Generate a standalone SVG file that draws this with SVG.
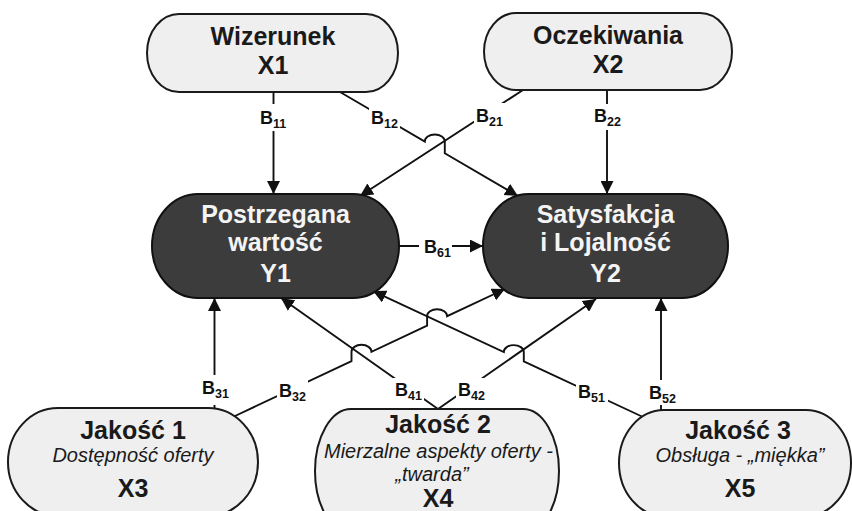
<svg xmlns="http://www.w3.org/2000/svg" width="852" height="511" viewBox="0 0 852 511">
<style>
.light{fill:#efefef;stroke:#1a1a1a;stroke-width:2}
.dark{fill:#3c3c3c;stroke:#111;stroke-width:2}
.t{font-family:"Liberation Sans",Arial,sans-serif;font-weight:bold;text-anchor:middle;fill:#1a1a1a;font-size:25px}
.tw{font-family:"Liberation Sans",Arial,sans-serif;font-weight:bold;text-anchor:middle;fill:#f4f4f4;font-size:25px}
.it{font-family:"Liberation Sans",Arial,sans-serif;font-style:italic;text-anchor:middle;fill:#1a1a1a;font-size:20px}
.e{fill:none;stroke:#111;stroke-width:1.9;marker-end:url(#arr)}
.lb{fill:#fff}
.l{font-family:"Liberation Sans",Arial,sans-serif;font-weight:bold;font-size:18px;fill:#111}
.s{font-size:12.5px}
</style>
<defs>
<marker id="arr" markerUnits="userSpaceOnUse" markerWidth="14" markerHeight="13" refX="13" refY="6.5" orient="auto">
<path d="M0,0 L13,6.5 L0,13 Z" fill="#111"/>
</marker>
</defs>
<rect width="852" height="511" fill="#fff"/>
<g id="connectors">
<g id="e11"><path class="e" d="M273.5,92 L273.5,194"/><rect class="lb" x="258" y="104" width="31" height="27"/><text class="l" x="260" y="124">B<tspan class="s" dy="4">11</tspan></text></g>
<g id="e12"><path class="e" d="M340,92 L424.8,141.5 A10,7 0 0 1 444.8,141.5 L444.8,153.2 L518,196"/><rect class="lb" x="369" y="106" width="31" height="24"/><text class="l" x="371" y="124">B<tspan class="s" dy="4">12</tspan></text></g>
<g id="e21"><path class="e" d="M523,90 L360,196"/><rect class="lb" x="474" y="103" width="31" height="25"/><text class="l" x="476" y="122">B<tspan class="s" dy="4">21</tspan></text></g>
<g id="e22"><path class="e" d="M607,90 L607,194"/><rect class="lb" x="592" y="104" width="32" height="26"/><text class="l" x="594" y="122">B<tspan class="s" dy="4">22</tspan></text></g>
<g id="e61"><path class="e" d="M399,246 L483,246"/><rect class="lb" x="419" y="236" width="33" height="22"/><text class="l" x="424" y="253">B<tspan class="s" dy="4">61</tspan></text></g>
<g id="e31"><path class="e" d="M214.5,408 L214.5,298"/><rect class="lb" x="200" y="375" width="31" height="30"/><text class="l" x="202" y="394">B<tspan class="s" dy="4">31</tspan></text></g>
<g id="e32"><path class="e" d="M235,416 L351.5,361.2 L351.5,351.8 A10,7 0 0 1 371.5,351.8 L427.1,325.6 L427.1,316.2 A10,7 0 0 1 447.1,316.2 L505,289"/><rect class="lb" x="277" y="378" width="31" height="24"/><text class="l" x="279" y="397">B<tspan class="s" dy="4">32</tspan></text></g>
<g id="e41"><path class="e" d="M438,409 L281,298"/><rect class="lb" x="393" y="378" width="31" height="24"/><text class="l" x="395" y="396">B<tspan class="s" dy="4">41</tspan></text></g>
<g id="e42"><path class="e" d="M438,409 L596,299"/><rect class="lb" x="456" y="378" width="32" height="24"/><text class="l" x="458" y="396">B<tspan class="s" dy="4">42</tspan></text></g>
<g id="e51"><path class="e" d="M643,417 L523.8,361.4 L523.8,352.1 A10,7 0 0 0 503.8,352.1 L373,291.1"/><rect class="lb" x="576" y="380" width="32" height="24"/><text class="l" x="578" y="398">B<tspan class="s" dy="4">51</tspan></text></g>
<g id="e52"><path class="e" d="M661,410 L661,298"/><rect class="lb" x="647" y="380" width="31" height="25"/><text class="l" x="649" y="399">B<tspan class="s" dy="4">52</tspan></text></g>
</g>
<g id="X1"><rect class="light" x="147" y="14" width="251" height="78" rx="32" ry="39"/><text class="t" x="273" y="45">Wizerunek</text><text class="t" x="273" y="74">X1</text></g>
<g id="X2"><rect class="light" x="484" y="13" width="248" height="77" rx="32" ry="38.5"/><text class="t" x="608" y="44">Oczekiwania</text><text class="t" x="608" y="73">X2</text></g>
<g id="Y1"><rect class="dark" x="152" y="194" width="247" height="104" rx="46" ry="52"/><text class="tw" x="275.5" y="222.5">Postrzegana</text><text class="tw" x="275.5" y="251">wartość</text><text class="tw" x="275.5" y="282">Y1</text></g>
<g id="Y2"><rect class="dark" x="483" y="194" width="245" height="104" rx="46" ry="52"/><text class="tw" x="605.5" y="222.5">Satysfakcja</text><text class="tw" x="605.5" y="251">i Lojalność</text><text class="tw" x="605.5" y="282">Y2</text></g>
<g id="X3"><rect class="light" x="8" y="408" width="250" height="108" rx="50" ry="54"/><text class="t" x="133" y="439">Jakość 1</text><text class="it" x="133" y="462">Dostępność oferty</text><text class="t" x="133" y="497">X3</text></g>
<g id="X4"><rect class="light" x="315" y="409" width="244" height="124" rx="36" ry="62"/><text class="t" x="438" y="433">Jakość 2</text><text class="it" x="438.5" y="458">Mierzalne aspekty oferty -</text><text class="it" x="432" y="481">„twarda”</text><text class="t" x="438" y="507" font-size="24">X4</text></g>
<g id="X5"><rect class="light" x="619" y="410" width="232" height="106" rx="45" ry="53"/><text class="t" x="738" y="439">Jakość 3</text><text class="it" x="740" y="462">Obsługa - „miękka”</text><text class="t" x="740" y="497">X5</text></g>
</svg>
